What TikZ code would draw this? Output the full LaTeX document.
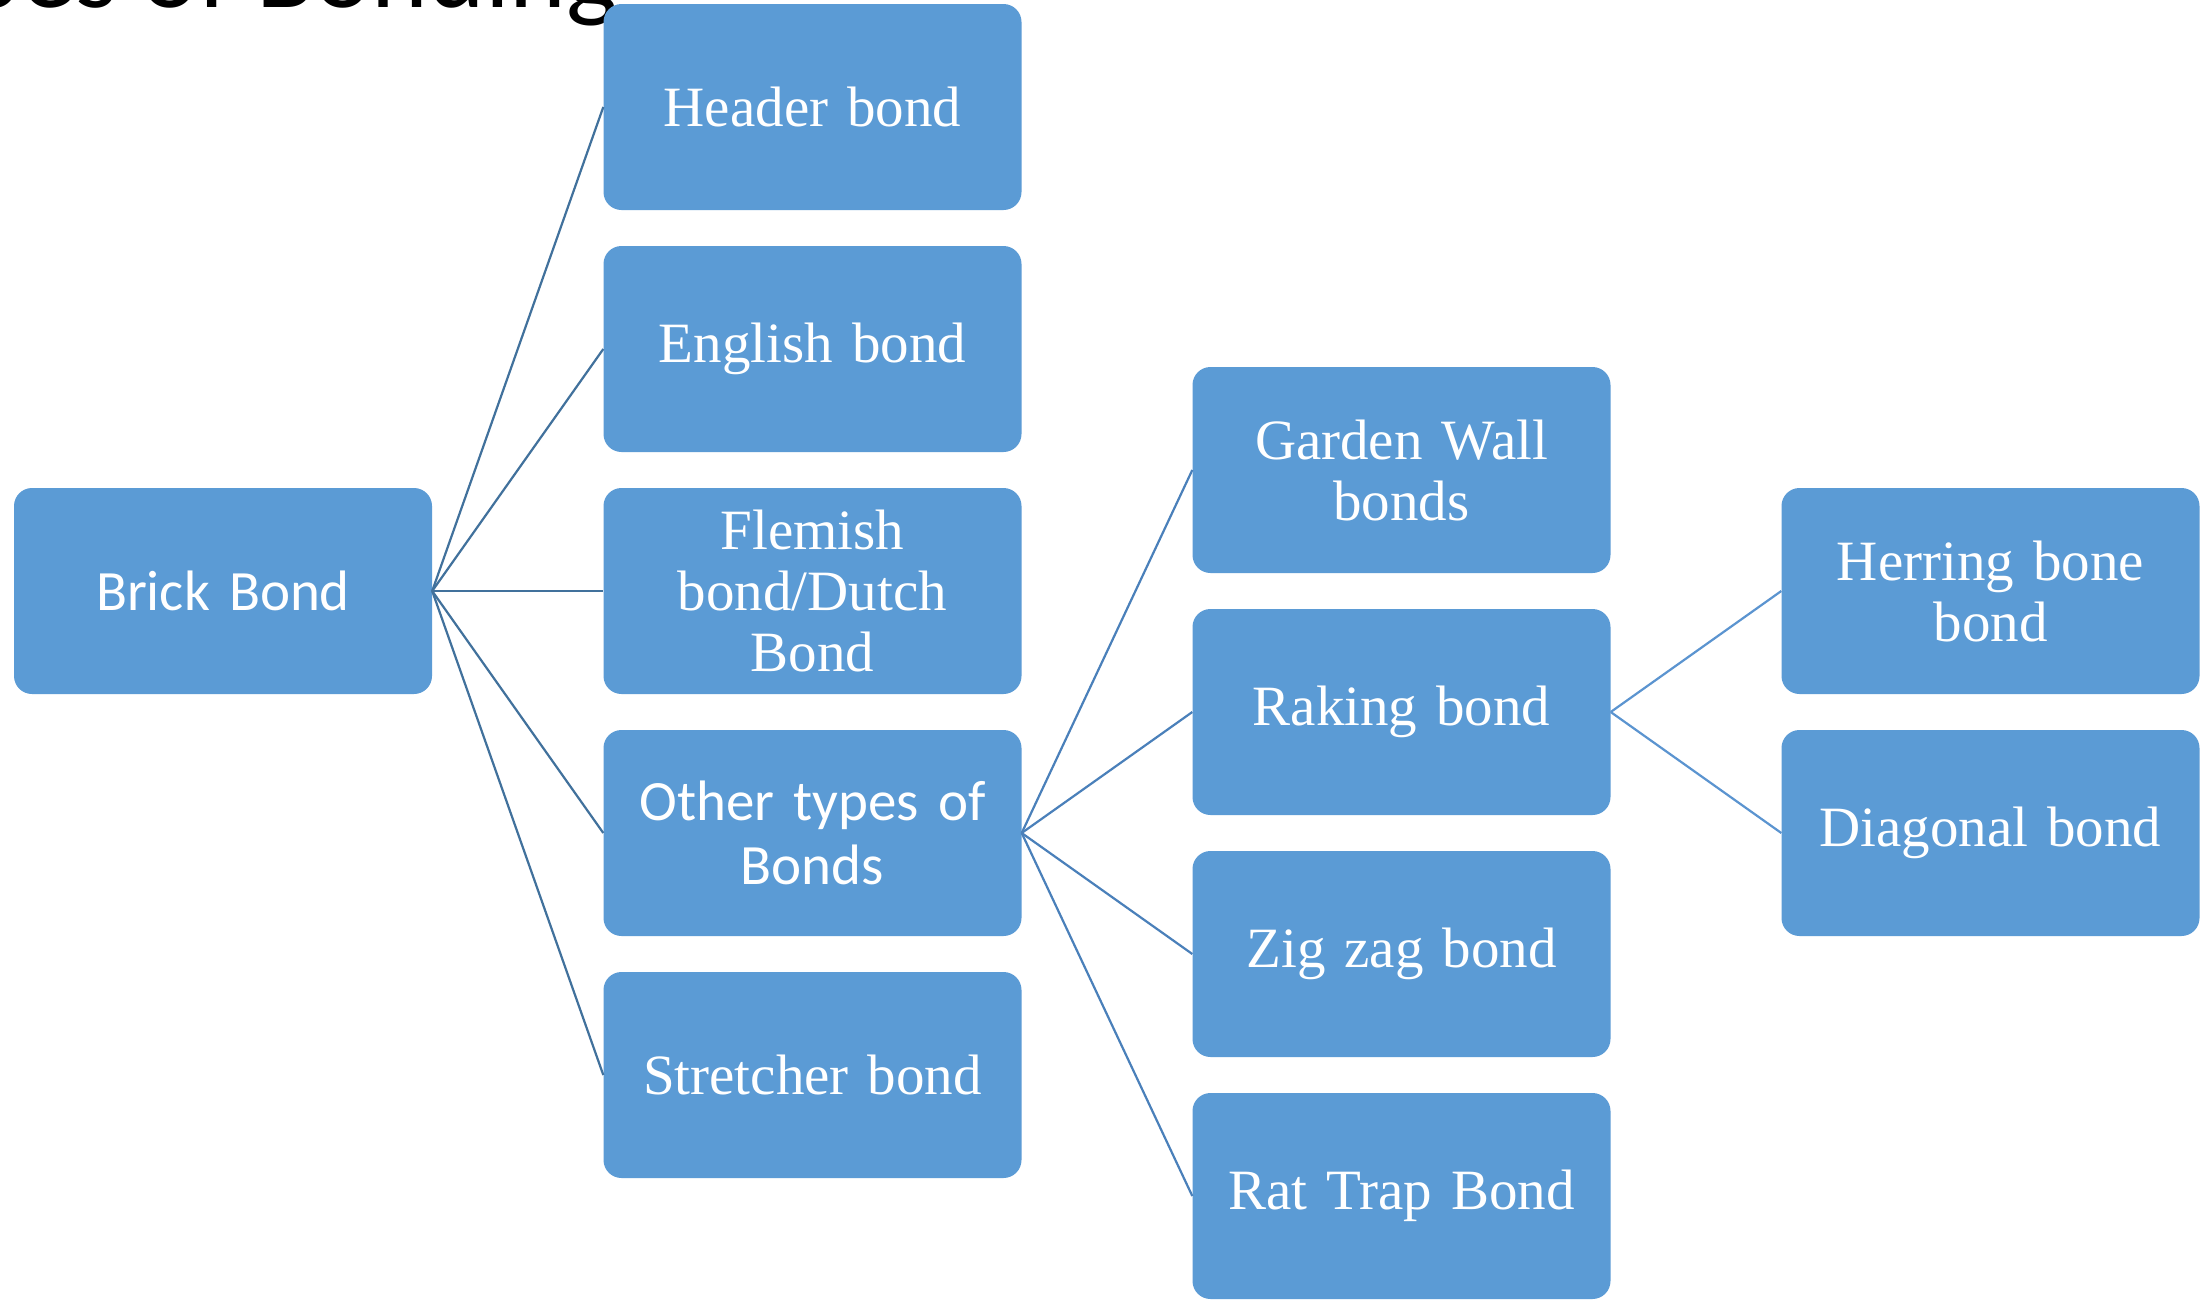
\documentclass[tikz,border=0pt]{standalone}
\usepackage{fontspec}
\setmainfont{Liberation Serif}
\newfontfamily\calib{Carlito}
\definecolor{boxblue}{HTML}{5B9BD5}
\definecolor{darkline}{HTML}{41719C}
\definecolor{midline}{HTML}{4A80BA}
\definecolor{lightline}{HTML}{5B94D0}
\begin{document}
\begin{tikzpicture}[x=1pt,y=-1pt,
  bx/.style={fill=boxblue, rounded corners=18pt, minimum width=418pt, minimum height=206pt,
    text width=410pt, align=center, text=white, inner sep=0pt,
    font=\fontsize{57}{61}\selectfont},
  cbx/.style={bx, font=\calib\fontsize{57}{64}\selectfont},
  l1/.style={draw=darkline, line width=2.2pt},
  l2/.style={draw=midline, line width=2.2pt},
  l3/.style={draw=lightline, line width=2.2pt}]
\useasboundingbox (0,0) rectangle (2212,1302);
\clip (0,0) rectangle (2212,1302);
\fill[white] (0,0) rectangle (2212,1302);
\node[anchor=base east, font=\calib\fontsize{108}{120}\selectfont, inner sep=0pt] (title) at (618,7) {Types of Bonding};
% column 1
\node[cbx] (brick) at (223,591) {Brick Bond};
% column 2
\node[bx] (header) at (812.5,107) {Header bond};
\node[bx] (english) at (812.5,349) {English bond};
\node[bx] (flemish) at (812.5,591) {Flemish\\bond/Dutch\\Bond};
\node[cbx] (other) at (812.5,833) {Other types of\\Bonds};
\node[bx] (stretcher) at (812.5,1075) {Stretcher bond};
% column 3
\node[bx] (garden) at (1401.5,470) {Garden Wall\\bonds};
\node[bx] (raking) at (1401.5,712) {Raking bond};
\node[bx] (zigzag) at (1401.5,954) {Zig zag bond};
\node[bx] (rattrap) at (1401.5,1196) {Rat Trap Bond};
% column 4
\node[bx] (herring) at (1990.5,591) {Herring bone\\bond};
\node[bx] (diagonal) at (1990.5,833) {Diagonal bond};
% connectors
\foreach \t in {header,english,flemish,other,stretcher}
  \draw[l1] (brick.east) -- (\t.west);
\foreach \t in {garden,raking,zigzag,rattrap}
  \draw[l2] (other.east) -- (\t.west);
\foreach \t in {herring,diagonal}
  \draw[l3] (raking.east) -- (\t.west);
\end{tikzpicture}
\end{document}
